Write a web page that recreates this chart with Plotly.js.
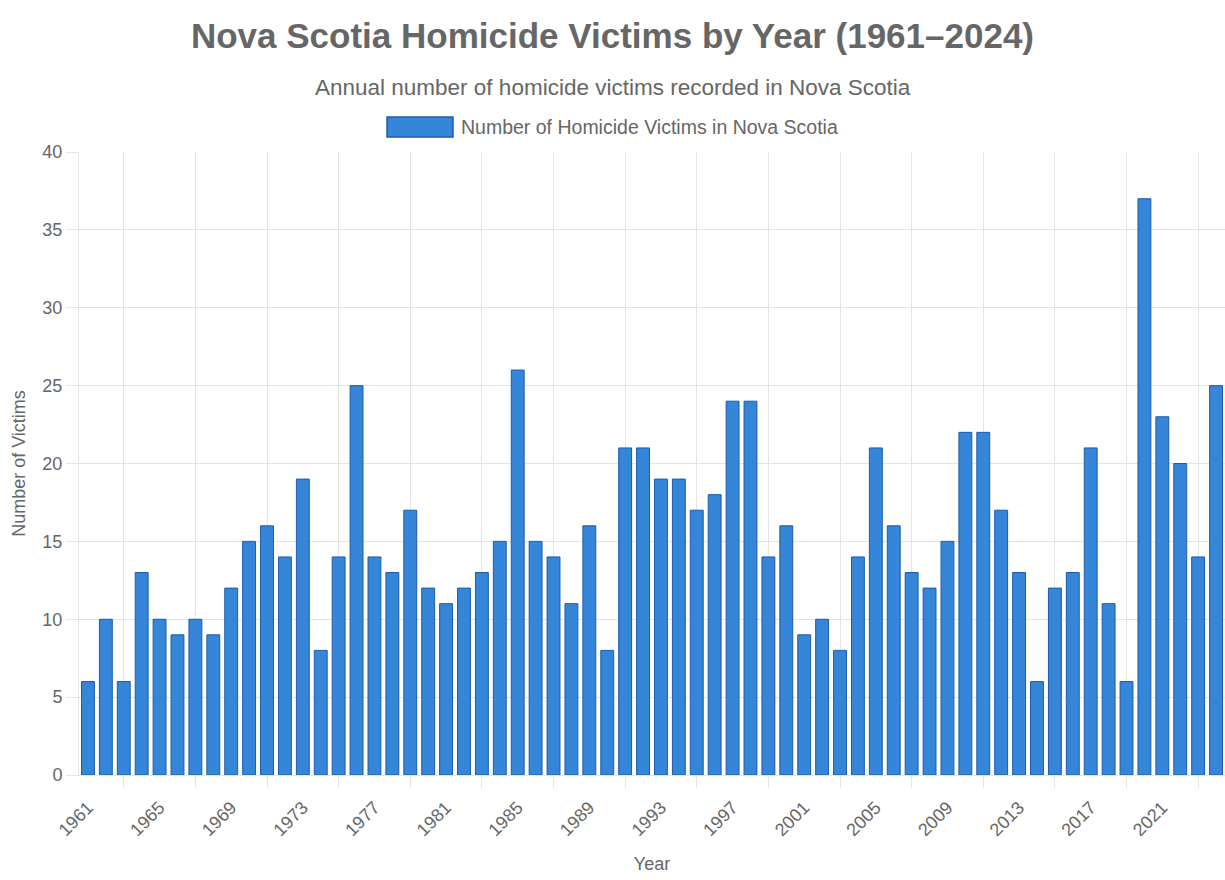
<!DOCTYPE html>
<html>
<head>
<meta charset="utf-8">
<script src="https://cdn.plot.ly/plotly-3.0.1.min.js"></script>
<style>html,body{margin:0;padding:0;background:#fff;}#chart{width:1225px;height:880px;}</style>
</head>
<body>
<div id="chart"></div>
<script>
const years = [1961,1962,1963,1964,1965,1966,1967,1968,1969,1970,1971,1972,1973,1974,1975,1976,1977,1978,1979,1980,1981,1982,1983,1984,1985,1986,1987,1988,1989,1990,1991,1992,1993,1994,1995,1996,1997,1998,1999,2000,2001,2002,2003,2004,2005,2006,2007,2008,2009,2010,2011,2012,2013,2014,2015,2016,2017,2018,2019,2020,2021,2022,2023,2024];
const victims = [6,10,6,13,10,9,10,9,12,15,16,14,19,8,14,25,14,13,17,12,11,12,13,15,26,15,14,11,16,8,21,21,19,19,17,18,24,24,14,16,9,10,8,14,21,16,13,12,15,22,22,17,13,6,12,13,21,11,6,37,23,20,14,25];
const tickYears = [1961,1965,1969,1973,1977,1981,1985,1989,1993,1997,2001,2005,2009,2013,2017,2021];
const tickLabels = tickYears.map(String);
const gridYears = [1963,1967,1971,1975,1979,1983,1987,1991,1995,1999,2003,2007,2011,2015,2019,2023];
const seriesName = "Number of Homicide Victims in Nova Scotia";

const FONT = "Liberation Sans, Arial, Helvetica, sans-serif";
const TXT = "#666666";
const GRID = "#e5e5e5";

// pixel helpers for paper coords (plot: x 79..1225, y 152..775)
const L = 79, R = 1225, T = 152, B = 775;
const px = v => (v - L) / (R - L);
const py = v => (B - v) / (B - T);

const trace = {
  type: "bar",
  x: years,
  y: victims,
  name: seriesName,
  marker: {color: "#3585d8", line: {color: "#1c5cae", width: 1}},
  showlegend: false,
  hovertemplate: "%{x}: %{y}<extra></extra>"
};

const layout = {
  width: 1225, height: 880,
  margin: {l: L, r: 0, t: T, b: 880 - B, pad: 0},
  paper_bgcolor: "#fff", plot_bgcolor: "#fff",
  font: {family: FONT, color: TXT, size: 18},
  bargap: 0.28,
  showlegend: false,
  title: {
    text: "<b>Nova Scotia Homicide Victims by Year (1961–2024)</b>",
    font: {family: FONT, size: 35, color: TXT},
    x: 0.5, xref: "container", xanchor: "center",
    y: 1 - 36 / 880, yref: "container", yanchor: "middle"
  },
  xaxis: {
    type: "linear",
    range: [1960.5, 2024.5],
    tickmode: "array", tickvals: tickYears, ticktext: tickLabels,
    tickangle: -45,
    ticks: "outside", ticklen: 14, tickcolor: "rgba(0,0,0,0)",
    tickfont: {size: 18, color: TXT},
    showgrid: false, zeroline: false,
    showline: true, linecolor: GRID, linewidth: 1,
    minor: {tickmode: "array", tickvals: gridYears, showgrid: true, gridcolor: GRID, gridwidth: 1,
            ticks: "outside", ticklen: 12, tickcolor: GRID, tickwidth: 1},
    title: {text: "Year", font: {size: 18, color: TXT}, standoff: 18},
    fixedrange: true
  },
  yaxis: {
    range: [0, 40], dtick: 5,
    ticks: "outside", ticklen: 12, tickcolor: GRID,
    tickfont: {size: 18, color: TXT},
    showgrid: true, gridcolor: GRID, gridwidth: 1,
    zeroline: false,
    showline: true, linecolor: GRID, linewidth: 1,
    title: {text: "Number of Victims", font: {size: 18, color: TXT}, standoff: 12},
    fixedrange: true
  },
  shapes: [
    {type: "rect", xref: "paper", yref: "paper",
     x0: px(387), x1: px(453), y0: py(137), y1: py(117),
     fillcolor: "#3585d8", line: {color: "#1c5cae", width: 1.5}}
  ],
  annotations: [
    {text: "Annual number of homicide victims recorded in Nova Scotia",
     xref: "paper", yref: "paper", x: px(612.5), y: py(87), xanchor: "center", yanchor: "middle",
     showarrow: false, font: {size: 22.5, color: TXT}},
    {text: seriesName,
     xref: "paper", yref: "paper", x: px(459), y: py(127), xanchor: "left", yanchor: "middle",
     showarrow: false, font: {size: 19.5, color: TXT}}
  ]
};

Plotly.newPlot("chart", [trace], layout, {displayModeBar: false, staticPlot: true});
</script>
</body>
</html>
